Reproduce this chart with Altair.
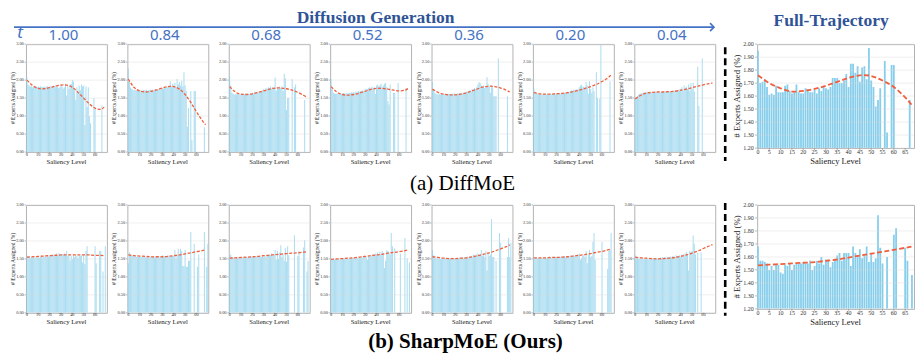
import altair as alt
import pandas as pd

# ---------------- data ----------------
LEVELS = list(range(71))
FIT_X = [0, 5, 10, 15, 20, 25, 30, 35, 40, 45, 50, 55, 60, 65, 68]
T_LABELS = ["1.00", "0.84", "0.68", "0.52", "0.36", "0.20", "0.04"]
SMALL_X_TICKS = [0, 10, 20, 30, 40, 50, 60]
SMALL_Y_TICKS = [0.0, 0.5, 1.0, 1.5, 2.0, 2.5, 3.0]
BIG_X_TICKS = [0, 5, 10, 15, 20, 25, 30, 35, 40, 45, 50, 55, 60, 65]
BIG_Y_TICKS = [1.2, 1.3, 1.4, 1.5, 1.6, 1.7, 1.8, 1.9, 2.0]

N = None

# DiffMoE, per timestep
diff_t100 = [2.08,1.88,1.85,1.82,1.83,1.80,1.82,1.80,1.83,1.80,
             1.82,1.80,1.83,1.81,1.80,1.82,1.80,1.82,1.83,1.80,
             1.82,1.83,1.80,1.84,1.82,1.85,1.80,1.82,1.78,1.80,
             1.88,1.82,1.76,1.80,1.90,1.57,1.85,1.75,1.88,1.90,
             2.00,1.96,1.72,1.45,1.80,1.65,1.85,1.72,1.88,1.82,
             1.85,0.75,1.82,1.25,1.80,1.00,0.80,N,N,1.50,
             1.20,N,N,N,N,N,1.30,N,N,N,N]
diff_t084 = [2.32,1.95,1.80,1.76,1.74,1.72,1.73,1.72,1.70,1.72,
             1.71,1.72,1.70,1.73,1.72,1.71,1.73,1.70,1.72,1.73,
             1.72,1.74,1.71,1.73,1.75,1.72,1.74,1.76,1.73,1.75,
             1.78,1.76,1.80,1.78,1.82,1.80,1.85,1.97,1.82,1.90,
             1.85,1.93,1.80,2.03,1.88,1.95,1.85,1.98,1.82,2.22,
             1.85,1.70,0.70,1.22,N,1.70,0.33,N,1.70,1.70,
             N,N,N,N,N,N,N,0.68,N,N,N]
diff_t068 = [2.10,1.85,1.65,1.62,1.60,1.61,1.60,1.62,1.60,1.61,
             1.60,1.62,1.60,1.61,1.63,1.60,1.62,1.61,1.63,1.62,
             1.65,1.63,1.68,1.65,1.66,1.68,1.65,1.70,1.68,1.72,
             1.75,1.72,1.78,1.76,1.80,1.78,1.82,1.77,1.80,1.78,
             2.07,1.70,1.80,1.76,1.82,1.78,1.82,1.70,2.18,2.05,
             1.17,1.50,1.50,N,N,2.03,N,1.80,1.88,N,
             N,N,N,N,N,N,1.45,N,N,N,N]
diff_t052 = [2.03,1.75,1.65,1.63,1.62,1.63,1.62,1.64,1.62,1.63,
             1.62,1.64,1.63,1.62,1.64,1.63,1.65,1.64,1.66,1.65,
             1.67,1.65,1.68,1.66,1.70,1.68,1.70,1.69,1.72,1.70,
             1.74,1.76,1.75,1.78,1.80,1.77,1.82,1.78,1.80,1.62,
             1.85,1.88,1.82,1.86,1.90,1.80,1.85,1.90,1.92,1.80,
             1.42,1.32,1.88,N,N,1.65,1.65,N,N,1.92,
             N,N,N,N,N,N,1.78,N,N,N,N]
diff_t036 = [1.95,1.75,1.65,1.62,1.61,1.60,1.62,1.60,1.61,1.60,
             1.62,1.60,1.61,1.60,1.62,1.61,1.60,1.62,1.61,1.63,
             1.62,1.60,1.63,1.62,1.64,1.62,1.65,1.63,1.66,1.65,
             1.68,1.66,1.70,1.72,1.70,1.75,1.72,1.78,1.75,1.80,
             1.88,1.95,1.92,1.85,1.80,1.85,1.78,1.80,2.08,1.90,
             1.82,1.65,1.85,1.80,1.55,1.55,1.55,N,2.60,N,
             N,N,N,N,N,N,1.55,N,N,N,N]
diff_t020 = [1.78,1.68,1.63,1.62,1.61,1.60,1.62,1.61,1.60,1.62,
             1.61,1.60,1.62,1.61,1.60,1.62,1.61,1.63,1.62,1.61,
             1.63,1.62,1.64,1.62,1.63,1.65,1.63,1.64,1.66,1.64,
             1.68,1.66,1.70,1.72,1.70,1.74,1.72,1.73,1.75,1.74,
             1.80,1.85,1.87,1.80,1.82,1.78,1.95,1.85,1.62,1.97,
             1.75,1.65,1.80,1.70,N,2.22,1.50,N,1.48,2.97,
             N,N,N,N,N,N,N,1.97,N,N,N]
diff_t004 = [1.50,1.52,1.55,1.60,1.62,1.63,1.64,1.65,1.66,1.65,
             1.66,1.65,1.66,1.67,1.66,1.65,1.67,1.66,1.68,1.67,
             1.66,1.68,1.67,1.66,1.68,1.67,1.69,1.68,1.67,1.70,
             1.68,1.69,1.70,1.68,1.72,1.70,1.69,1.71,1.73,1.70,
             1.75,1.80,1.72,1.85,1.78,1.82,1.75,1.88,1.70,1.92,
             1.75,1.93,1.68,N,N,2.38,1.28,N,N,2.60,
             N,N,N,N,N,N,N,N,N,N,N]

# SharpMoE, per timestep
sharp_t100 = [1.60,1.58,1.55,1.52,1.55,1.53,1.56,1.52,1.55,1.54,
              1.56,1.53,1.55,1.57,1.54,1.56,1.58,1.55,1.57,1.56,
              1.58,1.60,1.57,1.62,1.60,1.63,1.65,1.60,1.66,1.62,
              1.60,1.64,1.62,1.65,1.60,1.72,1.58,1.62,1.45,1.58,
              1.50,1.60,1.55,1.62,1.58,1.52,1.60,1.58,1.60,1.40,
              1.60,1.35,1.72,1.85,N,N,N,N,N,N,
              1.85,1.38,N,N,1.72,1.72,N,1.15,N,1.85,N]
sharp_t084 = [1.38,1.68,1.63,1.60,1.58,1.57,1.58,1.56,1.57,1.55,
              1.57,1.56,1.55,1.57,1.55,1.56,1.54,1.56,1.55,1.54,
              1.56,1.55,1.57,1.54,1.56,1.55,1.58,1.54,1.57,1.55,
              1.60,1.56,1.58,1.55,1.57,1.60,1.58,1.56,1.59,1.58,
              1.58,1.75,1.52,1.62,1.78,1.62,1.78,1.72,1.30,1.30,
              1.75,1.28,1.28,1.45,1.45,2.25,N,N,1.92,N,
              N,1.28,1.62,N,N,N,N,2.25,N,1.28,1.92]
sharp_t068 = [1.58,1.62,1.55,1.53,1.54,1.52,1.55,1.53,1.54,1.52,
              1.55,1.53,1.54,1.56,1.53,1.55,1.54,1.56,1.55,1.57,
              1.55,1.56,1.58,1.55,1.57,1.56,1.58,1.57,1.55,1.58,
              1.56,1.58,1.55,1.60,1.58,1.62,1.60,1.65,1.58,1.62,
              1.75,1.48,1.72,1.50,1.68,1.88,1.55,1.62,1.45,1.80,
              1.42,1.85,1.60,N,N,N,N,2.16,N,N,
              1.58,1.72,N,N,N,1.82,2.02,N,1.15,1.45,N]
sharp_t052 = [1.50,1.49,1.50,1.48,1.50,1.49,1.51,1.50,1.48,1.51,
              1.50,1.52,1.50,1.51,1.53,1.50,1.52,1.51,1.53,1.52,
              1.54,1.52,1.55,1.53,1.52,1.55,1.53,1.56,1.54,1.55,
              1.57,1.55,1.48,1.58,1.56,1.60,1.58,1.62,1.60,1.65,
              1.62,1.68,1.60,1.70,1.62,1.72,1.65,1.25,1.45,1.74,
              1.72,1.68,1.62,2.22,1.85,N,1.80,N,N,N,
              N,1.65,N,N,N,2.08,N,1.52,N,1.40,N]
sharp_t036 = [1.75,1.60,1.55,1.52,1.53,1.51,1.52,1.50,1.52,1.51,
              1.50,1.52,1.51,1.50,1.52,1.50,1.51,1.53,1.50,1.52,
              1.51,1.50,1.52,1.51,1.53,1.52,1.54,1.52,1.55,1.53,
              1.55,1.57,1.54,1.56,1.58,1.55,1.62,1.60,1.58,1.62,
              1.65,1.60,1.62,1.75,1.58,1.62,1.55,1.72,1.18,1.68,
              1.58,1.62,2.60,1.55,1.55,N,1.45,N,N,2.22,
              1.95,N,N,N,N,N,1.55,2.08,1.55,1.95,N]
sharp_t020 = [1.53,1.52,1.54,1.52,1.53,1.51,1.54,1.52,1.53,1.52,
              1.54,1.52,1.53,1.55,1.52,1.54,1.53,1.55,1.54,1.56,
              1.55,1.54,1.56,1.55,1.57,1.55,1.56,1.58,1.55,1.57,
              1.56,1.58,1.57,1.59,1.56,1.60,1.58,1.57,1.60,1.62,
              1.65,1.48,1.52,1.58,1.60,1.55,1.72,1.38,1.62,1.75,
              1.55,1.58,1.98,2.22,1.48,N,N,N,N,N,
              1.97,N,N,N,N,1.22,1.72,1.75,2.22,N,N]
sharp_t004 = [1.60,1.55,1.52,1.51,1.50,1.52,1.50,1.51,1.49,1.50,
              1.52,1.50,1.49,1.51,1.50,1.52,1.50,1.51,1.53,1.50,
              1.52,1.51,1.54,1.52,1.55,1.53,1.55,1.52,1.56,1.54,
              1.55,1.57,1.54,1.58,1.56,1.55,1.60,1.58,1.56,1.60,
              1.55,1.62,1.58,1.65,1.60,1.70,1.62,1.18,1.72,1.68,
              1.72,2.15,1.92,1.62,N,1.68,N,N,1.68,N,
              N,N,N,N,N,N,N,N,N,N,N]

# Full trajectory
diff_full = [1.95,1.70,1.71,1.73,1.67,1.61,1.62,1.61,1.68,1.63,
             1.63,1.63,1.68,1.69,1.64,1.62,1.63,1.69,1.63,1.62,
             1.62,1.66,1.65,1.63,1.63,1.65,1.62,1.66,1.64,1.67,
             1.66,1.65,1.67,1.74,1.74,1.74,1.70,1.70,1.72,1.77,
             1.67,1.85,1.85,1.78,1.83,1.71,1.82,1.83,1.73,1.97,
             1.72,1.67,1.52,1.57,1.66,N,1.87,1.32,N,1.84,
             1.84,N,N,N,N,N,N,1.57,N,N,N]
sharp_full = [1.68,1.57,1.57,1.56,1.55,1.50,1.53,1.50,1.54,1.54,
              1.48,1.47,1.54,1.53,1.55,1.50,1.54,1.55,1.55,1.55,
              1.56,1.55,1.55,1.57,1.50,1.53,1.57,1.55,1.60,1.54,
              1.58,1.58,1.52,1.56,1.58,1.61,1.63,1.57,1.63,1.63,
              1.63,1.53,1.68,1.63,1.61,1.66,1.59,1.61,1.68,1.56,
              1.62,1.56,1.59,1.92,1.67,1.55,N,1.60,N,N,
              1.77,1.82,N,N,N,1.67,1.57,N,1.46,N,N]

# fitted trend curves (read at FIT_X)
diff_fit = [
    [2.00,1.85,1.77,1.76,1.79,1.83,1.86,1.86,1.80,1.66,1.50,1.34,1.22,1.19,1.25],
    [2.03,1.80,1.70,1.67,1.69,1.73,1.78,1.82,1.82,1.75,1.60,1.38,1.12,0.88,0.76],
    [1.82,1.67,1.61,1.60,1.62,1.66,1.70,1.75,1.78,1.78,1.76,1.72,1.66,1.58,1.52],
    [1.82,1.67,1.60,1.58,1.60,1.64,1.69,1.74,1.77,1.77,1.75,1.72,1.70,1.72,1.77],
    [1.75,1.66,1.61,1.59,1.59,1.61,1.65,1.70,1.76,1.81,1.83,1.82,1.78,1.72,1.67],
    [1.65,1.62,1.61,1.61,1.62,1.63,1.65,1.68,1.72,1.77,1.82,1.88,1.96,2.06,2.15],
    [1.48,1.58,1.64,1.66,1.67,1.67,1.68,1.69,1.72,1.75,1.79,1.83,1.87,1.90,1.92],
]
sharp_fit = [
    [1.55,1.56,1.57,1.58,1.59,1.60,1.61,1.61,1.61,1.61,1.61,1.61,1.60,1.60,1.59],
    [1.61,1.59,1.58,1.57,1.56,1.56,1.56,1.57,1.59,1.61,1.64,1.67,1.70,1.73,1.76],
    [1.52,1.53,1.54,1.55,1.56,1.57,1.59,1.60,1.62,1.63,1.65,1.66,1.67,1.69,1.70],
    [1.49,1.50,1.51,1.52,1.53,1.55,1.57,1.59,1.61,1.63,1.66,1.68,1.70,1.73,1.75],
    [1.56,1.54,1.52,1.51,1.51,1.52,1.53,1.56,1.59,1.63,1.67,1.72,1.78,1.84,1.89],
    [1.53,1.53,1.53,1.54,1.54,1.55,1.56,1.58,1.60,1.62,1.65,1.68,1.71,1.75,1.78],
    [1.55,1.53,1.52,1.51,1.50,1.51,1.52,1.54,1.57,1.61,1.66,1.72,1.79,1.86,1.90],
]
diff_full_fit = [1.76,1.70,1.66,1.635,1.64,1.655,1.68,1.71,1.74,1.76,1.755,1.72,1.67,1.59,1.53]
sharp_full_fit = [1.535,1.54,1.545,1.55,1.555,1.56,1.57,1.58,1.595,1.61,1.625,1.64,1.655,1.67,1.68]

diff_small = [diff_t100, diff_t084, diff_t068, diff_t052, diff_t036, diff_t020, diff_t004]
sharp_small = [sharp_t100, sharp_t084, sharp_t068, sharp_t052, sharp_t036, sharp_t020, sharp_t004]

# ---------------- style ----------------
SERIF = "Liberation Serif"
SANS = "Noto Sans"
BLUE_T = "#4472c4"
BLUE_H = "#2f5496"
RED = "#f0603e"
BAR_COLOR = "#87ceeb"
SMALL_W, SMALL_H = 81, 108
BIG_W, BIG_H = 157, 104
YTITLE = "# Experts Assigned (%)"
XTITLE = "Saliency Level"
TRANSPARENT_VIEW = alt.ViewBackground(stroke="transparent")

SMALL_AX = dict(lfs=4.4, tfs_x=6.7, tfs_y=5.5, ts=1.5, ylx=-2.2, xly=2.6, xty=9.5, ytx=-13)
BIG_AX = dict(lfs=6, tfs_x=8.5, tfs_y=8.8, ts=2, ylx=-3.5, xly=4, xty=13, ytx=-20)

one = pd.DataFrame({"k": [0]})


def bar_df(vals):
    return pd.DataFrame({"level": LEVELS[:len(vals)], "value": vals}).dropna()


def fit_df(vals):
    return pd.DataFrame({"level": FIT_X, "fit": vals}).dropna()


def txt(text, x, y, **kw):
    return alt.Chart(one).mark_text(text=text, **kw).encode(x=alt.value(x), y=alt.value(y))


def axis_layers(xs, ys, xticks, yticks, W, H, c, show_ytitle=True):
    xt = pd.DataFrame({"tick": xticks, "label": [str(t) for t in xticks]})
    yt = pd.DataFrame({"tick": yticks, "label": [f"{t:.2f}" for t in yticks]})
    grid = alt.Chart(yt).mark_rule(color="#d8d8d8", strokeWidth=0.6, opacity=0.7).encode(
        y=alt.Y("tick:Q", scale=ys, axis=None), x=alt.value(0), x2=alt.value(W))
    ytk = alt.Chart(yt).mark_rule(color="#888888", strokeWidth=0.6).encode(
        y=alt.Y("tick:Q", scale=ys, axis=None), x=alt.value(-c["ts"]), x2=alt.value(0))
    ylab = alt.Chart(yt).mark_text(font=SERIF, fontSize=c["lfs"], align="right",
                                   baseline="middle", color="#333333").encode(
        y=alt.Y("tick:Q", scale=ys, axis=None), x=alt.value(c["ylx"]), text="label:N")
    xtk = alt.Chart(xt).mark_rule(color="#888888", strokeWidth=0.6).encode(
        x=alt.X("tick:Q", scale=xs, axis=None), y=alt.value(H), y2=alt.value(H + c["ts"]))
    xlab = alt.Chart(xt).mark_text(font=SERIF, fontSize=c["lfs"], align="center",
                                   baseline="middle", color="#333333").encode(
        x=alt.X("tick:Q", scale=xs, axis=None), y=alt.value(H + c["xly"]), text="label:N")
    xtitle = txt(XTITLE, W / 2, H + c["xty"], font=SERIF, fontSize=c["tfs_x"],
                 align="center", baseline="middle", color="#222222")
    out = [grid, ytk, ylab, xtk, xlab, xtitle]
    if show_ytitle:
        out.append(txt(YTITLE, c["ytx"], H / 2, font=SERIF, fontSize=c["tfs_y"], angle=270,
                       align="center", baseline="middle", color="#222222"))
    return out


def small_panel(vals, fit, label, show_ytitle=True, extra=()):
    xs = alt.Scale(domain=[-0.8, 70.4], nice=False, zero=False)
    ys = alt.Scale(domain=[0, 3], nice=False)
    bars = alt.Chart(bar_df(vals)).transform_calculate(
        x0="datum.level - 0.45", x1="datum.level + 0.45"
    ).mark_bar(color=BAR_COLOR, opacity=0.7, clip=True).encode(
        x=alt.X("x0:Q", scale=xs, axis=None), x2="x1:Q",
        y=alt.Y("value:Q", scale=ys, axis=None), y2=alt.datum(0))
    line = alt.Chart(fit_df(fit)).mark_line(
        color=RED, strokeDash=[3, 1.6], strokeWidth=1.3, interpolate="natural", clip=True
    ).encode(x=alt.X("level:Q", scale=xs, axis=None), y=alt.Y("fit:Q", scale=ys, axis=None))
    layers = [bars] + axis_layers(xs, ys, SMALL_X_TICKS, SMALL_Y_TICKS, SMALL_W, SMALL_H,
                                  SMALL_AX, show_ytitle) + [line]
    if label:
        layers.append(txt(label, SMALL_W / 2 - 3, -4, font=SANS, fontSize=15, color=BLUE_T,
                          baseline="alphabetic", align="center"))
    return alt.layer(*layers, *extra).properties(width=SMALL_W, height=SMALL_H)


def big_panel(vals, fit, sep_y, sep_y2):
    xs = alt.Scale(domain=[-0.35, 68.9], nice=False, zero=False)
    ys = alt.Scale(domain=[1.2, 2.0], nice=False, zero=False)
    bars = alt.Chart(bar_df(vals)).transform_calculate(
        x0="datum.level - 0.4", x1="datum.level + 0.4"
    ).mark_bar(color=BAR_COLOR, opacity=1, clip=True).encode(
        x=alt.X("x0:Q", scale=xs, axis=None), x2="x1:Q",
        y=alt.Y("value:Q", scale=ys, axis=None), y2=alt.datum(1.2))
    line = alt.Chart(fit_df(fit)).mark_line(
        color=RED, strokeDash=[5, 2.5], strokeWidth=1.8, interpolate="natural", clip=True
    ).encode(x=alt.X("level:Q", scale=xs, axis=None), y=alt.Y("fit:Q", scale=ys, axis=None))
    sep = alt.Chart(one).mark_rule(color="black", strokeWidth=2.6, strokeDash=[7, 4]).encode(
        x=alt.value(-32), y=alt.value(sep_y), y2=alt.value(sep_y2))
    layers = [bars] + axis_layers(xs, ys, BIG_X_TICKS, BIG_Y_TICKS, BIG_W, BIG_H, BIG_AX) + [line, sep]
    return alt.layer(*layers).properties(width=BIG_W, height=BIG_H)


def spacer():
    return alt.Chart(one).mark_point(opacity=0).encode(
        x=alt.value(0), y=alt.value(0)
    ).properties(width=0.5, height=SMALL_H, view=TRANSPARENT_VIEW)


# header + caption texts, positioned relative to the first panel of each row
head_marks = [
    txt("Diffusion Generation", 350, -35, font=SERIF, fontSize=17.5, fontWeight="bold",
        color=BLUE_H, baseline="top", align="center"),
    alt.Chart(one).mark_rule(color=BLUE_T, strokeWidth=1.8).encode(
        x=alt.value(-12), x2=alt.value(688), y=alt.value(-17)),
    alt.Chart(one).mark_point(shape="M -0.8 -1 L 0.2 0 L -0.8 1", filled=False, color=BLUE_T,
                              strokeWidth=1.6, size=64, opacity=1).encode(
        x=alt.value(688), y=alt.value(-17)),
    txt("t", -6, -6, font=SANS, fontSize=17, fontStyle="italic", color=BLUE_T,
        baseline="alphabetic", align="center"),
    txt("Full-Trajectory", 806, -18, font=SERIF, fontSize=17.5, fontWeight="bold",
        color=BLUE_H, baseline="alphabetic", align="center"),
    txt("(a) DiffMoE", 437, 140, font=SERIF, fontSize=21, baseline="middle",
        align="center", color="black"),
]
cap2_marks = [
    txt("(b) SharpMoE (Ours)", 440, 137, font=SERIF, fontSize=21, fontWeight="bold",
        baseline="middle", align="center", color="black"),
]

cells = []
for r, (small_data, small_fits, big_vals, big_fit, labels, sy, sy2, extra) in enumerate([
    (diff_small, diff_fit, diff_full, diff_full_fit, T_LABELS, 3, 117, head_marks),
    (sharp_small, sharp_fit, sharp_full, sharp_full_fit, [""] * 7, -2, 111, cap2_marks),
]):
    for i in range(7):
        cells.append(small_panel(small_data[i], small_fits[i], labels[i],
                                 show_ytitle=(i != 2), extra=(extra if i == 0 else ())))
    cells.append(spacer())
    cells.append(big_panel(big_vals, big_fit, sy, sy2))

chart = alt.concat(*cells, columns=9, spacing={"row": 53, "column": 20.5},
                   bounds="flush", align="each").properties(
    padding={"left": 2, "top": 0, "right": 0, "bottom": 4}, background="white"
).configure_view(
    stroke="#b3b3b3", strokeWidth=1
)

chart.save("out.html", embed_options={"renderer": "svg", "actions": False})
